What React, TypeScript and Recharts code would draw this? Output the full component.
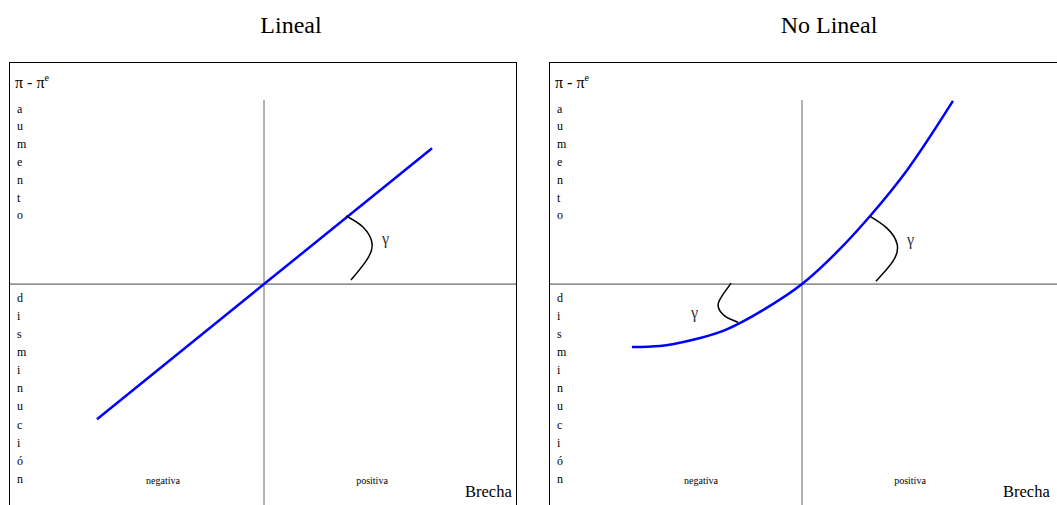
import { LineChart, Line, XAxis, YAxis, ReferenceLine } from "recharts";

// panel titles and label words
const titles = ["Lineal", "No Lineal"];
const upLetters = ["a", "u", "m", "e", "n", "t", "o"];
const downLetters = ["d", "i", "s", "m", "i", "n", "u", "c", "i", "ó", "n"];
const gapLabels = ["negativa", "positiva"];

// lineal: straight line through the origin
const linealLine = [
  { x: -6.55, y: -7.34 },
  { x: 6.59, y: 7.38 },
];

// no lineal: convex curve
const noLinealCurve = [
  { x: -6.67, y: -3.42 },
  { x: -5.57, y: -3.36 },
  { x: -4.31, y: -3.04 },
  { x: -3.02, y: -2.5 },
  { x: -1.45, y: -1.35 },
  { x: 0, y: 0 },
  { x: 1.49, y: 1.91 },
  { x: 2.67, y: 3.7 },
  { x: 4.12, y: 6.19 },
  { x: 5.92, y: 9.95 },
];

// angle arcs (gamma)
const linealArc = [
  { x: 3.22, y: 3.7 },
  { x: 3.88, y: 3.1 },
  { x: 4.24, y: 2.17 },
  { x: 4.0, y: 1.25 },
  { x: 3.41, y: 0.22 },
];
const noLinealArcUp = [
  { x: 2.67, y: 3.68 },
  { x: 3.33, y: 3.04 },
  { x: 3.73, y: 2.17 },
  { x: 3.57, y: 1.25 },
  { x: 2.9, y: 0.16 },
];
const noLinealArcDown = [
  { x: -2.78, y: 0.05 },
  { x: -3.14, y: -0.65 },
  { x: -3.29, y: -1.2 },
  { x: -3.02, y: -1.74 },
  { x: -2.51, y: -2.07 },
];

type Pt = { x: number; y: number };

const Plot = ({
  left,
  curve,
  curveType,
  arcs,
}: {
  left: number;
  curve: Pt[];
  curveType: "linear" | "monotone";
  arcs: Pt[][];
}) => (
  <div style={{ position: "absolute", left, top: 38 }}>
    <LineChart width={510} height={405} margin={{ top: 0, right: 0, bottom: 0, left: 0 }}>
      <XAxis type="number" dataKey="x" domain={[-10, 10]} hide allowDataOverflow />
      <YAxis type="number" dataKey="y" domain={[-12, 10]} hide allowDataOverflow />
      <ReferenceLine y={0} stroke="#444" strokeWidth={1} />
      <ReferenceLine x={0} stroke="#666" strokeWidth={1} />
      <Line
        data={curve}
        dataKey="y"
        type={curveType}
        stroke="#0000ff"
        strokeWidth={2.5}
        dot={false}
        isAnimationActive={false}
      />
      {arcs.map((a, i) => (
        <Line
          key={i}
          data={a}
          dataKey="y"
          type="natural"
          stroke="#000"
          strokeWidth={1.5}
          dot={false}
          isAnimationActive={false}
        />
      ))}
    </LineChart>
  </div>
);

const SideWord = ({ x, top, step, letters }: { x: number; top: number; step: number; letters: string[] }) => (
  <>
    {letters.map((l, i) => (
      <text key={i} x={x} y={top + i * step} fontSize={12}>
        {l}
      </text>
    ))}
  </>
);

const Texts = ({ box, axis, title, brecha }: { box: number; axis: number; title: string; brecha: number }) => (
  <>
    <text x={axis + 27} y={33} fontSize={24} textAnchor="middle">
      {title}
    </text>
    <text x={box + 6} y={88} fontSize={16}>
      π - π
      <tspan dy={-7} fontSize={10}>
        e
      </tspan>
    </text>
    <SideWord x={box + 8} top={112.5} step={17.8} letters={upLetters} />
    <SideWord x={box + 8} top={301.5} step={18.15} letters={downLetters} />
    <text x={axis - 101} y={484} fontSize={10} textAnchor="middle">
      {gapLabels[0]}
    </text>
    <text x={axis + 108} y={484} fontSize={10} textAnchor="middle">
      {gapLabels[1]}
    </text>
    <text x={brecha} y={497} fontSize={16.5}>
      Brecha
    </text>
  </>
);

export default function App() {
  return (
    <div
      style={{
        position: "absolute",
        left: 0,
        top: 0,
        width: 1057,
        height: 505,
        overflow: "hidden",
        background: "#fff",
        fontFamily: "'Liberation Serif', 'Times New Roman', serif",
      }}
    >
      {/* panel frames */}
      <div style={{ position: "absolute", left: 9, top: 62, width: 508, height: 500, border: "1px solid #000", boxSizing: "border-box", overflow: "hidden" }}>
        <div style={{ position: "absolute", left: -1, top: -1 }}>
          <Plot left={264 - 255 - 9} curve={linealLine} curveType="linear" arcs={[linealArc]} />
        </div>
      </div>
      <div style={{ position: "absolute", left: 549, top: 62, width: 560, height: 500, border: "1px solid #000", boxSizing: "border-box", overflow: "hidden" }}>
        <div style={{ position: "absolute", left: -1, top: -1 }}>
          <Plot left={802 - 255 - 549} curve={noLinealCurve} curveType="monotone" arcs={[noLinealArcUp, noLinealArcDown]} />
        </div>
      </div>
      <svg
        width={1057}
        height={505}
        style={{ position: "absolute", left: 0, top: 0, pointerEvents: "none", fontFamily: "'Liberation Serif', serif" }}
      >
        <Texts box={9} axis={264} title={titles[0]} brecha={465} />
        <Texts box={549} axis={802} title={titles[1]} brecha={1003} />
        <text x={382} y={244} fontSize={16} fill="#333">
          γ
        </text>
        <text x={907} y={245} fontSize={16} fill="#333">
          γ
        </text>
        <text x={691} y={318} fontSize={16} fill="#333">
          γ
        </text>
      </svg>
    </div>
  );
}
